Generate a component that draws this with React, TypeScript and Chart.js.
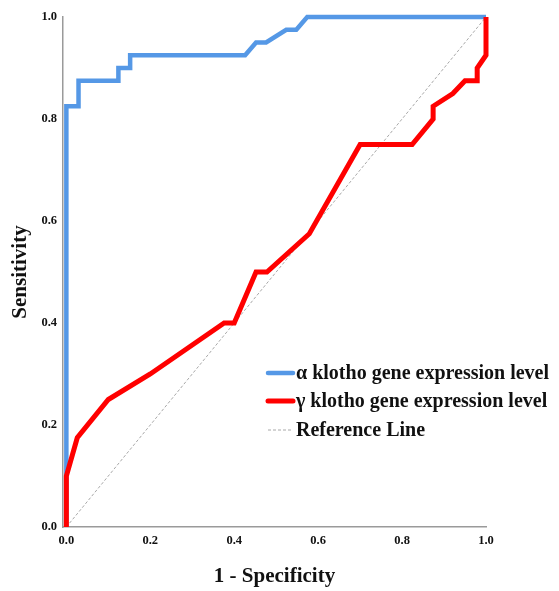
import React, { useEffect, useRef } from "react";
import { Chart, registerables } from "chart.js";

Chart.register(...registerables);

const alphaLabel = "α klotho gene expression level";
const gammaLabel = "γ klotho gene expression level";
const refLabel = "Reference Line";

const alphaX = [0, 0, 0.029, 0.029, 0.124, 0.124, 0.152, 0.152, 0.426, 0.452, 0.476, 0.524, 0.548, 0.574, 1];
const alphaY = [0, 0.825, 0.825, 0.875, 0.875, 0.9, 0.9, 0.925, 0.925, 0.95, 0.95, 0.975, 0.975, 1, 1];

const gammaX = [0, 0, 0.026, 0.1, 0.2, 0.376, 0.4, 0.452, 0.478, 0.579, 0.7, 0.824, 0.874, 0.874, 0.921, 0.95, 0.979, 0.979, 1, 1];
const gammaY = [0, 0.1, 0.175, 0.25, 0.3, 0.4, 0.4, 0.5, 0.5, 0.575, 0.75, 0.75, 0.8, 0.825, 0.85, 0.875, 0.875, 0.9, 0.925, 1];

const refX = [0, 1];
const refY = [0, 1];

const tickValues = [0, 0.2, 0.4, 0.6, 0.8, 1.0];

const toPoints = (xs: number[], ys: number[]) => xs.map((x, i) => ({ x, y: ys[i] }));

const legendPlugin = {
  id: "insideLegend",
  afterDraw(chart: any) {
    const ctx = chart.ctx;
    ctx.save();
    const startX = 268;
    const lineEnd = 293;
    const textX = 296;
    const rows = [373, 401, 430];
    chart.data.datasets.forEach((ds: any, i: number) => {
      const y = rows[i];
      ctx.beginPath();
      ctx.strokeStyle = ds.borderColor;
      ctx.lineWidth = ds.borderWidth;
      ctx.lineCap = i < 2 ? "round" : "butt";
      ctx.setLineDash(ds.borderDash || []);
      ctx.moveTo(startX, y);
      ctx.lineTo(lineEnd, y);
      ctx.stroke();
      ctx.setLineDash([]);
      ctx.fillStyle = "#111";
      ctx.font = "bold 20px 'Liberation Serif', serif";
      ctx.textBaseline = "middle";
      ctx.textAlign = "left";
      ctx.fillText(ds.label, textX, y + 1);
    });
    ctx.restore();
  },
};

export default function App() {
  const ref = useRef<HTMLCanvasElement | null>(null);
  useEffect(() => {
    if (!ref.current) return;
    const chart = new Chart(ref.current, {
      type: "scatter",
      data: {
        datasets: [
          {
            label: alphaLabel,
            data: toPoints(alphaX, alphaY),
            showLine: true,
            borderColor: "#5598E6",
            borderWidth: 4.5,
            pointRadius: 0,
            tension: 0,
            clip: false,
            order: 1,
          },
          {
            label: gammaLabel,
            data: toPoints(gammaX, gammaY),
            showLine: true,
            borderColor: "#FF0000",
            borderWidth: 5,
            pointRadius: 0,
            tension: 0,
            clip: false,
            order: 0,
          },
          {
            label: refLabel,
            data: toPoints(refX, refY),
            showLine: true,
            borderColor: "#A8A8A8",
            borderWidth: 1,
            borderDash: [3, 2],
            pointRadius: 0,
            tension: 0,
            clip: false,
            order: 2,
          },
        ],
      },
      options: {
        animation: false,
        responsive: false,
        maintainAspectRatio: false,
        layout: { padding: { left: 0, top: 17, right: 73, bottom: 0 } },
        plugins: { legend: { display: false }, tooltip: { enabled: false } },
        scales: {
          x: {
            type: "linear",
            min: -0.008,
            max: 1,
            afterBuildTicks: (scale: any) => {
              scale.ticks = tickValues.map((v) => ({ value: v }));
            },
            afterFit: (scale: any) => {
              scale.height = 64;
            },
            grid: { display: false, drawTicks: false },
            border: { display: true, color: "#9a9a9a", width: 1.5 },
            ticks: {
              padding: 6,
              color: "#111",
              font: { family: "'Liberation Serif', serif", weight: "bold", size: 12.5 },
              callback: (v: any) => Number(v).toFixed(1),
            },
            title: {
              display: true,
              text: "1 - Specificity",
              color: "#111",
              font: { family: "'Liberation Serif', serif", weight: "bold", size: 21 },
              padding: { top: 0, bottom: 2 },
            },
          },
          y: {
            type: "linear",
            min: 0,
            max: 1,
            afterBuildTicks: (scale: any) => {
              scale.ticks = tickValues.map((v) => ({ value: v }));
            },
            afterFit: (scale: any) => {
              scale.width = 63;
            },
            grid: { display: false, drawTicks: false },
            border: { display: true, color: "#9a9a9a", width: 1.5 },
            ticks: {
              padding: 6,
              color: "#111",
              font: { family: "'Liberation Serif', serif", weight: "bold", size: 12.5 },
              callback: (v: any) => Number(v).toFixed(1),
            },
            title: {
              display: true,
              text: "Sensitivity",
              color: "#111",
              font: { family: "'Liberation Serif', serif", weight: "bold", size: 21 },
              padding: { top: 8, bottom: 0 },
            },
          },
        },
      },
      plugins: [legendPlugin],
    } as any);
    return () => chart.destroy();
  }, []);
  return (
    <div style={{ position: "fixed", left: 0, top: 0, width: 559, height: 591, background: "#fff" }}>
      <canvas ref={ref} width={559} height={591} style={{ display: "block" }} />
    </div>
  );
}
